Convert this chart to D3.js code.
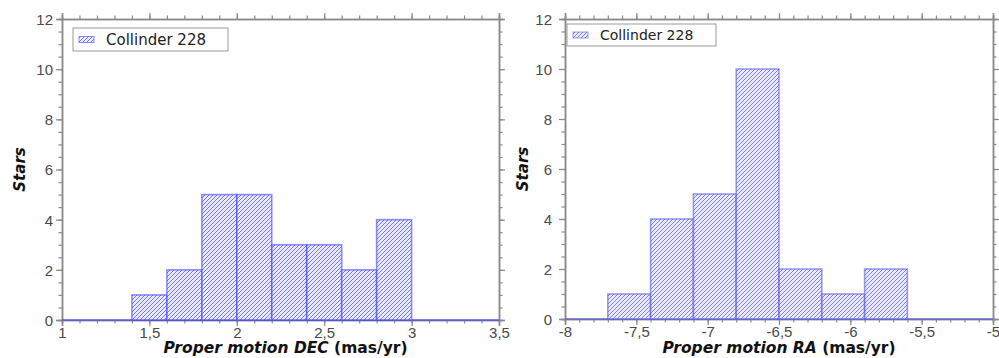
<!DOCTYPE html>
<html>
<head>
<meta charset="utf-8">
<script src="https://cdn.jsdelivr.net/npm/d3@7"></script>
<style>
  html, body { margin: 0; padding: 0; background: #fff; }
  svg { display: block; font-family: "DejaVu Sans", sans-serif; }
</style>
</head>
<body>
<svg id="chart" width="999" height="358"></svg>
<script>
// Proper-motion histograms of Collinder 228 members
const seriesName = "Collinder 228";

// DEC histogram: bin edges and star counts
const decEdges = [1.4, 1.6, 1.8, 2.0, 2.2, 2.4, 2.6, 2.8, 3.0];
const decCounts = [1, 2, 5, 5, 3, 3, 2, 4];
const decDomain = [1, 3.5];
const decTicks = [1, 1.5, 2, 2.5, 3, 3.5];

// RA histogram: bin edges and star counts
const raEdges = [-7.7, -7.4, -7.1, -6.8, -6.5, -6.2, -5.9, -5.6];
const raCounts = [1, 4, 5, 10, 2, 1, 2];
const raDomain = [-8, -5];
const raTicks = [-8, -7.5, -7, -6.5, -6, -5.5, -5];

const yDomain = [0, 12];
const yTicks = [0, 2, 4, 6, 8, 10, 12];

const svg = d3.select("#chart");
const defs = svg.append("defs");

function hatch(id, color) {
  const p = defs.append("pattern")
    .attr("id", id)
    .attr("patternUnits", "userSpaceOnUse")
    .attr("width", 4).attr("height", 4);
  p.append("rect").attr("width", 4).attr("height", 4).attr("fill", "rgba(228,228,255,0.75)");
  p.append("path")
    .attr("d", "M-1,1 l2,-2 M0,4 l4,-4 M3,5 l2,-2")
    .attr("stroke", color).attr("stroke-width", 0.9).attr("stroke-opacity", 0.8);
}
hatch("hatchL", "#4a4aff");
hatch("hatchR", "#5858ea");

const fmt = v => String(v).replace(".", ",");
const axisColor = "#8a8a8a";

function minorValues(domain, step) {
  const out = [];
  const n = Math.round((domain[1] - domain[0]) / step);
  for (let i = 0; i <= n; i++) out.push(+(domain[0] + i * step).toFixed(6));
  return out;
}

function panel(cfg) {
  const x = d3.scaleLinear().domain(cfg.xDomain).range([cfg.left, cfg.right]);
  const y = d3.scaleLinear().domain(yDomain).range([cfg.bottom, cfg.top]);
  const g = svg.append("g");

  const xMinor = minorValues(cfg.xDomain, 0.1);
  const yMinor = minorValues(yDomain, 0.5);

  function styleAxis(sel) {
    sel.select(".domain").attr("stroke", axisColor).attr("stroke-width", 1.5);
    sel.selectAll(".tick line").attr("stroke", axisColor).attr("stroke-width", 1.2);
    sel.selectAll(".tick text").attr("fill", "#4a4a4a").attr("font-size", 15);
  }

  // minor ticks on all four sides
  const minors = [
    [d3.axisBottom(x).tickValues(xMinor), `translate(0,${cfg.bottom})`],
    [d3.axisTop(x).tickValues(xMinor), `translate(0,${cfg.top})`],
    [d3.axisLeft(y).tickValues(yMinor), `translate(${cfg.left},0)`],
    [d3.axisRight(y).tickValues(yMinor), `translate(${cfg.right},0)`]
  ];
  minors.forEach(([ax, tr]) => {
    const a = g.append("g").attr("transform", tr)
      .call(ax.tickSize(3.5).tickFormat(""));
    styleAxis(a);
  });

  // major ticks
  const xb = g.append("g").attr("transform", `translate(0,${cfg.bottom})`)
    .call(d3.axisBottom(x).tickValues(cfg.xTicks).tickSize(6).tickPadding(1).tickFormat(fmt));
  styleAxis(xb);
  g.append("g").attr("transform", `translate(0,${cfg.top})`)
    .call(d3.axisTop(x).tickValues(cfg.xTicks).tickSize(6).tickFormat(""))
    .call(styleAxis);
  const yl = g.append("g").attr("transform", `translate(${cfg.left},0)`)
    .call(d3.axisLeft(y).tickValues(yTicks).tickSize(6).tickPadding(cfg.yPad).tickFormat(fmt));
  styleAxis(yl);
  yl.selectAll(".tick text").attr("dy", "0.36em");
  g.append("g").attr("transform", `translate(${cfg.right},0)`)
    .call(d3.axisRight(y).tickValues(yTicks).tickSize(6).tickFormat(""))
    .call(styleAxis);

  // zero baseline across the whole range
  g.append("line")
    .attr("x1", x(cfg.xDomain[0])).attr("x2", x(cfg.xDomain[1]))
    .attr("y1", y(0)).attr("y2", y(0))
    .attr("stroke", cfg.edge).attr("stroke-width", 2);

  // histogram bars
  const bins = cfg.counts.map((c, i) => ({ x0: cfg.edges[i], x1: cfg.edges[i + 1], c }));
  g.append("g").selectAll("rect").data(bins).join("rect")
    .attr("x", d => x(d.x0))
    .attr("width", d => x(d.x1) - x(d.x0))
    .attr("y", d => y(d.c))
    .attr("height", d => y(0) - y(d.c))
    .attr("fill", `url(#${cfg.pattern})`)
    .attr("stroke", cfg.edge)
    .attr("stroke-width", 1.6);

  // legend
  const lg = g.append("g").attr("transform", `translate(${cfg.legend.x},${cfg.legend.y})`);
  lg.append("rect")
    .attr("width", cfg.legend.w).attr("height", cfg.legend.h)
    .attr("fill", "#fff").attr("stroke", "#9a9a9a").attr("stroke-width", 1);
  lg.append("rect")
    .attr("x", 6).attr("y", cfg.legend.h / 2 - 3).attr("width", 15).attr("height", 6)
    .attr("fill", `url(#${cfg.pattern})`).attr("stroke", cfg.edge).attr("stroke-width", 1);
  lg.append("text")
    .attr("x", cfg.legend.tx).attr("y", cfg.legend.h / 2)
    .attr("dy", "0.36em")
    .attr("font-size", cfg.legend.fs).attr("fill", "#222")
    .text(seriesName);

  // axis titles
  const xt = g.append("text")
    .attr("x", (cfg.left + cfg.right) / 2 + cfg.xTitleShift).attr("y", 353)
    .attr("text-anchor", "middle")
    .attr("font-size", 15.5).attr("font-weight", "bold").attr("fill", "#111");
  xt.append("tspan").attr("font-style", "italic").text(cfg.xTitle);
  xt.append("tspan").text(" (mas/yr)");

  g.append("text")
    .attr("transform", `translate(${cfg.yTitleX},${(cfg.top + cfg.bottom) / 2}) rotate(-90)`)
    .attr("text-anchor", "middle")
    .attr("font-size", 15).attr("font-weight", "bold").attr("font-style", "italic")
    .attr("fill", "#111")
    .text("Stars");
}

panel({
  xDomain: decDomain, xTicks: decTicks, edges: decEdges, counts: decCounts,
  left: 62, right: 499, top: 19, bottom: 320, yPad: 3,
  pattern: "hatchL", edge: "rgba(70,70,255,0.6)",
  legend: { x: 73, y: 28, w: 155, h: 23, tx: 33, fs: 15 },
  xTitle: "Proper motion DEC", xTitleShift: 5, yTitleX: 25
});

panel({
  xDomain: raDomain, xTicks: raTicks, edges: raEdges, counts: raCounts,
  left: 565, right: 993, top: 19, bottom: 319, yPad: 7,
  pattern: "hatchR", edge: "rgba(90,90,225,0.6)",
  legend: { x: 567, y: 24, w: 149, h: 22, tx: 33, fs: 14 },
  xTitle: "Proper motion RA", xTitleShift: 0, yTitleX: 528
});
</script>
</body>
</html>
